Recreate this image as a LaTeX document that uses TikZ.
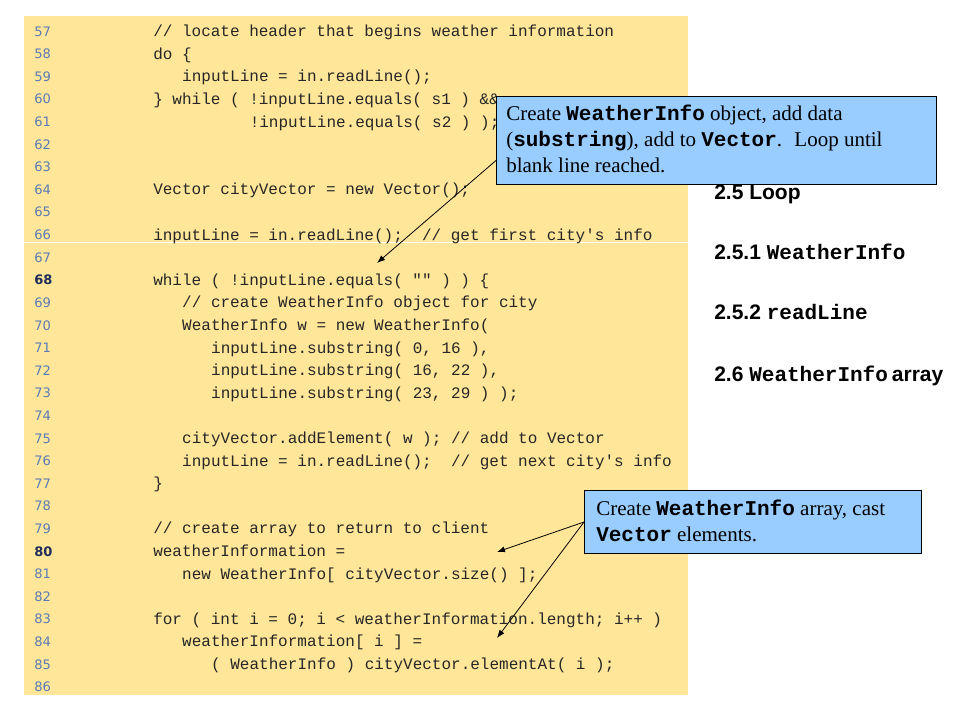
\documentclass[tikz,border=0pt]{standalone}
\usepackage{fontspec}
\setmainfont{Liberation Serif}
\setsansfont{Liberation Sans}
\setmonofont{Liberation Mono}
\newfontfamily\numfont{DejaVu Sans}
\usetikzlibrary{arrows.meta}
\definecolor{codebg}{HTML}{FFE699}
\definecolor{numcol}{HTML}{5B7BB5}
\definecolor{numbold}{HTML}{1F2D5A}
\definecolor{callbg}{HTML}{99CCFF}
\tikzset{
  codeline/.style={anchor=base west, inner sep=0pt, font=\ttfamily\fontsize{12}{12}\selectfont, text=black!85},
  numline/.style={anchor=base west, inner sep=0pt, font=\numfont\fontsize{9.8}{10}\selectfont, text=numcol},
  numlinebold/.style={numline, font=\numfont\bfseries\fontsize{9.8}{10}\selectfont, text=numbold},
  labline/.style={anchor=base west, inner sep=0pt, font=\sffamily\bfseries\fontsize{15.75}{18}\selectfont},
  callbox/.style={draw=black, fill=callbg, line width=0.75pt, anchor=north west, inner sep=0pt},
  calltext/.style={anchor=north west, inner sep=0pt, align=left, font=\rmfamily\fontsize{15.75}{19.5}\selectfont},
  callarrow/.style={draw=black, line width=0.6pt, -{Latex[length=6pt,width=4.5pt]}}
}
\newcommand\mb[1]{{\ttfamily\bfseries #1}}
\newcommand\codeat[3]{%
  \pgfmathsetmacro\yy{31.7+22.6*(#1-57)+5}%
  \node[codeline] (c#1) at ({153+9.65*#2},\yy) {#3};%
}
\begin{document}
\begin{tikzpicture}[x=0.75pt,y=-0.75pt]
\useasboundingbox (0,0) rectangle (960,720);
\fill[white] (0,0) rectangle (960,720);
% code background
\fill[codebg] (24,16) rectangle (688,695);
\draw[white, line width=0.75pt] (24,243) -- (688,243);
% line numbers
\foreach \n in {57,...,67,69,70,...,79,81,82,...,86} {
  \node[numline] (n\n) at (34,{31.7+22.6*(\n-57)+4.5}) {\n};
}
\node[numlinebold] (n68) at (34,{31.7+22.6*(68-57)+4.5}) {68};
\node[numlinebold] (n80) at (34,{31.7+22.6*(80-57)+4.5}) {80};
% code
\codeat{57}{0}{// locate header that begins weather information}
\codeat{58}{0}{do \{}
\codeat{59}{3}{inputLine = in.readLine();}
\codeat{60}{0}{\} while ( !inputLine.equals( s1 ) \&\&}
\codeat{61}{10}{!inputLine.equals( s2 ) );}
\codeat{64}{0}{Vector cityVector = new Vector();}
\codeat{66}{0}{inputLine = in.readLine();~~// get first city's info}
\codeat{68}{0}{while ( !inputLine.equals( "" ) ) \{}
\codeat{69}{3}{// create WeatherInfo object for city}
\codeat{70}{3}{WeatherInfo w = new WeatherInfo(}
\codeat{71}{6}{inputLine.substring( 0, 16 ),}
\codeat{72}{6}{inputLine.substring( 16, 22 ),}
\codeat{73}{6}{inputLine.substring( 23, 29 ) );}
\codeat{75}{3}{cityVector.addElement( w ); // add to Vector}
\codeat{76}{3}{inputLine = in.readLine();~~// get next city's info}
\codeat{77}{0}{\}}
\codeat{79}{0}{// create array to return to client}
\codeat{80}{0}{weatherInformation =}
\codeat{81}{3}{new WeatherInfo[ cityVector.size() ];}
\codeat{83}{0}{for ( int i = 0; i < weatherInformation.length; i++ )}
\codeat{84}{3}{weatherInformation[ i ] =}
\codeat{85}{6}{( WeatherInfo ) cityVector.elementAt( i );}
% right labels
\node[labline] (r1) at (714,199.5) {2.5 Loop};
\node[labline] (r2) at (714,259.5) {2.5.1 \mb{WeatherInfo}};
\node[labline] (r3) at (714,319.5) {2.5.2 \mb{readLine}};
\node[labline] (r4) at (714,381.5) {2.6 \mb{WeatherInfo}\hspace{3pt}array};
% callout 1
\node[callbox, minimum width=330pt, minimum height=66pt] (box1) at (496,96) {};
\node[calltext] (t1) at (506,104.5) {Create \mb{WeatherInfo} object, add data\\(\mb{substring}), add to \mb{Vector}.~ Loop until\\blank line reached.};
\coordinate (a1) at (377,263);
\draw[callarrow] ([yshift=-15pt]box1.west) -- (a1);
% callout 2
\node[callbox, minimum width=252.75pt, minimum height=47.25pt] (box2) at (584,490) {};
\node[calltext] (t2) at (596,499.5) {Create \mb{WeatherInfo} array, cast\\\mb{Vector} elements.};
\coordinate (a2) at (497,552);
\coordinate (a3) at (497,638);
\draw[callarrow] (box2.west) -- (a2);
\draw[callarrow] (box2.west) -- (a3);
\end{tikzpicture}
\end{document}
